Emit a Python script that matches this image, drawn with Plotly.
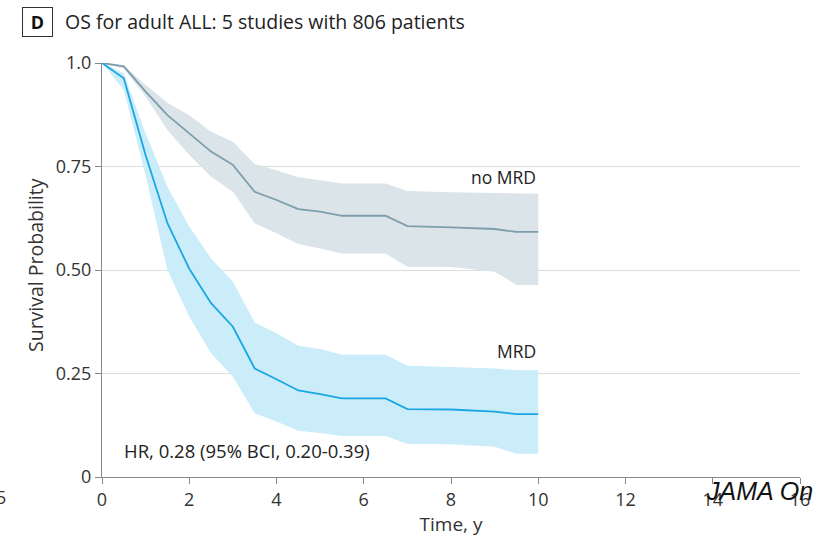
import plotly.graph_objects as go

# time points (years)
time_y = [0, 0.5, 1, 1.5, 2, 2.5, 3, 3.5, 4, 4.5, 5, 5.5, 6.5, 7, 8, 9, 9.5, 10]

# no MRD survival + band
no_mrd = [1.0, 0.992, 0.931, 0.874, 0.830, 0.786, 0.754, 0.689, 0.669, 0.647,
          0.641, 0.631, 0.631, 0.606, 0.603, 0.599, 0.592, 0.592]
no_mrd_hi = [1.0, 0.994, 0.947, 0.904, 0.874, 0.834, 0.810, 0.756, 0.741, 0.724,
             0.717, 0.709, 0.709, 0.691, 0.688, 0.686, 0.684, 0.684]
no_mrd_lo = [1.0, 0.987, 0.919, 0.838, 0.778, 0.725, 0.689, 0.613, 0.589, 0.563,
             0.552, 0.540, 0.540, 0.508, 0.507, 0.496, 0.464, 0.464]

# MRD survival + band
mrd = [1.0, 0.963, 0.777, 0.613, 0.503, 0.420, 0.363, 0.262, 0.236, 0.209,
       0.200, 0.190, 0.190, 0.164, 0.163, 0.158, 0.152, 0.152]
mrd_hi = [1.0, 0.975, 0.830, 0.701, 0.605, 0.528, 0.472, 0.373, 0.347, 0.317,
          0.309, 0.295, 0.295, 0.269, 0.266, 0.262, 0.258, 0.258]
mrd_lo = [1.0, 0.935, 0.728, 0.500, 0.387, 0.299, 0.242, 0.154, 0.134, 0.112,
          0.106, 0.099, 0.099, 0.080, 0.079, 0.073, 0.056, 0.056]

x_ticks = [0, 2, 4, 6, 8, 10, 12, 14, 16]
y_ticks = [0, 0.25, 0.5, 0.75, 1.0]
y_labels = ['0', '0.25', '0.50', '0.75', '1.0']

FONT = 'Open Sans'
GRAY_LINE = '#7d9dac'
GRAY_BAND = '#dbe4e9'
BLUE_LINE = '#1aa6e4'
BLUE_BAND = '#cbedf9'

W, H = 813, 540
ML, MR, MT, MB = 102, 13, 63, 63
PW, PH = W - ML - MR, H - MT - MB


def px(x):
    # figure pixel -> paper x
    return (x - ML) / PW


def py(y):
    # figure pixel -> paper y
    return (H - MB - y) / PH


fig = go.Figure()


def add_band(x, lo, hi, color):
    fig.add_trace(go.Scatter(x=x, y=lo, mode='lines', line=dict(width=0),
                             hoverinfo='skip', showlegend=False))
    fig.add_trace(go.Scatter(x=x, y=hi, mode='lines', line=dict(width=0),
                             fill='tonexty', fillcolor=color,
                             hoverinfo='skip', showlegend=False))


add_band(time_y, no_mrd_lo, no_mrd_hi, GRAY_BAND)
add_band(time_y, mrd_lo, mrd_hi, BLUE_BAND)

fig.add_trace(go.Scatter(x=time_y, y=no_mrd, mode='lines', name='no MRD',
                         line=dict(color=GRAY_LINE, width=1.8), cliponaxis=False))
fig.add_trace(go.Scatter(x=time_y, y=mrd, mode='lines', name='MRD',
                         line=dict(color=BLUE_LINE, width=1.8), cliponaxis=False))

annos = [
    dict(x=10, y=0.725, xref='x', yref='y', text='no MRD', showarrow=False,
         xanchor='right', yanchor='middle', font=dict(size=17.5, color='#222')),
    dict(x=10, y=0.305, xref='x', yref='y', text='MRD', showarrow=False,
         xanchor='right', yanchor='middle', font=dict(size=17.5, color='#222')),
    dict(x=0.45, y=0.065, xref='x', yref='y', text='HR, 0.28 (95% BCI, 0.20-0.39)',
         showarrow=False, xanchor='left', yanchor='middle',
         font=dict(size=18.5, color='#222')),
    # panel letter box
    dict(x=px(37), y=py(22), xref='paper', yref='paper', text='<b>D</b>',
         showarrow=False, xanchor='center', yanchor='middle',
         bordercolor='#333', borderwidth=1, borderpad=3, width=23, height=22,
         font=dict(size=18, color='#111')),
    dict(x=px(63), y=py(21), xref='paper', yref='paper',
         text='OS for adult ALL: 5 studies with 806 patients', showarrow=False,
         xanchor='left', yanchor='middle', font=dict(size=19.5, color='#222')),
    dict(x=px(35), y=py(265), xref='paper', yref='paper', text='Survival Probability',
         showarrow=False, textangle=-90, xanchor='center', yanchor='middle',
         font=dict(size=19.5, color='#333')),
    # leftover tick fragment and watermark as seen in the figure
    dict(x=px(8), y=py(497), xref='paper', yref='paper', text='5',
         showarrow=False, xanchor='right', yanchor='middle',
         font=dict(size=18, color='#333')),
    dict(x=px(704), y=py(491), xref='paper', yref='paper',
         text='<i>JAMA Oncology</i>', showarrow=False, xanchor='left',
         yanchor='middle', font=dict(size=25, color='#111', family='Liberation Sans')),
]

fig.update_layout(
    width=W, height=H,
    margin=dict(l=ML, r=MR, t=MT, b=MB, autoexpand=False),
    plot_bgcolor='white', paper_bgcolor='white',
    font=dict(family=FONT, size=18, color='#333'),
    showlegend=False,
    annotations=annos,
    xaxis=dict(range=[0, 16], tickvals=x_ticks, showgrid=False, zeroline=False,
               showline=True, linecolor='#888', linewidth=1.2,
               ticks='outside', ticklen=6, tickcolor='#888',
               tickfont=dict(size=18),
               title=dict(text='Time, y', font=dict(size=19), standoff=6)),
    yaxis=dict(range=[0, 1], tickvals=y_ticks, ticktext=y_labels,
               showgrid=True, gridcolor='#dcdcdc', gridwidth=1.2, zeroline=False,
               showline=True, linecolor='#888', linewidth=1.2,
               ticks='outside', ticklen=6, tickcolor='#888',
               tickfont=dict(size=18)),
)

# drop the default page margin so the figure fills the window
fig.write_html("out.html", config={'displayModeBar': False},
               post_script="document.body.style.margin = '0';")
